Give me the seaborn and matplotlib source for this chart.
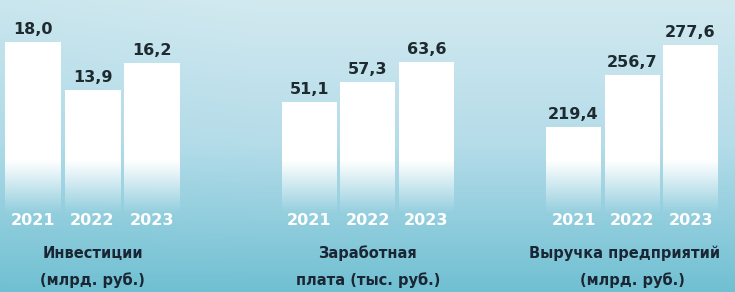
import numpy as np
import pandas as pd
import seaborn as sns
import matplotlib.pyplot as plt
from matplotlib.transforms import blended_transform_factory

# data
years = ['2021', '2022', '2023']
invest = [18.0, 13.9, 16.2]
salary = [51.1, 57.3, 63.6]
revenue = [219.4, 256.7, 277.6]
groups = [
    (invest, ['Инвестиции', '(млрд. руб.)']),
    (salary, ['Заработная', 'плата (тыс. руб.)']),
    (revenue, ['Выручка предприятий', '(млрд. руб.)']),
]

# layout (figure fractions) and truncated y ranges, tuned to the picture
ax_rects = [[0.0044, 0.195, 0.2429, 0.771],
            [0.381, 0.195, 0.2388, 0.771],
            [0.7405, 0.195, 0.2388, 0.771]]
ylims = [(1.5, 20.8), (9.7, 80.0), (142.7, 303.3)]
title_x = [0.5, 0.5, 0.46]

sns.set_theme(style='white')
plt.rcParams['font.family'] = ['DejaVu Sans']

fig = plt.figure(figsize=(7.35, 2.92), dpi=100)

# light blue background gradient
ny, nx = 120, 200
yy = np.linspace(0, 1, ny)[:, None]          # 0 top -> 1 bottom
xx = np.linspace(0, 1, nx)[None, :]
top = np.array([210, 233, 240]) / 255
mid = np.array([180, 220, 233]) / 255
bot = np.array([112, 192, 210]) / 255
t = yy[..., None]
bg = np.where(t < 0.5, top + (mid - top) * (t / 0.5), mid + (bot - mid) * ((t - 0.5) / 0.5))
# slightly more teal toward the left edge
edge = (1 - np.clip(xx / 0.35, 0, 1))[..., None] * 0.08
bg = bg * (1 - edge) + np.array([110, 195, 210]) / 255 * edge
bg = np.broadcast_to(bg, (ny, nx, 3))
bg_ax = fig.add_axes([0, 0, 1, 1])
bg_ax.imshow(bg, aspect='auto', extent=[0, 1, 0, 1])
bg_ax.set_axis_off()

for (values, title), rect, ylim, tx in zip(groups, ax_rects, ylims, title_x):
    ax = fig.add_axes(rect)
    ax.patch.set_alpha(0)
    df = pd.DataFrame({'year': years, 'value': values})
    sns.barplot(data=df, x='year', y='value', color='white', width=0.94,
                saturation=1, ax=ax)
    ax.set_ylim(*ylim)
    xlim = ax.get_xlim()
    lo, hi = ylim

    # white bars fading out toward the bottom
    for p in ax.patches:
        x0, y0, w, h = p.get_x(), p.get_y(), p.get_width(), p.get_height()
        ybot = max(y0, lo)
        ytop = y0 + h
        rows = np.linspace(ytop, ybot, 200)
        frac = (rows - lo) / (hi - lo)
        alpha = np.clip((frac - 0.09) / 0.24, 0, 1) ** 1.2
        img = np.ones((200, 1, 4))
        img[:, 0, 3] = alpha
        ax.imshow(img, aspect='auto', extent=[x0, x0 + w, ybot, ytop],
                  interpolation='bilinear', zorder=2)
        p.set_alpha(0)

    ax.bar_label(ax.containers[0],
                 labels=[f'{v:.1f}'.replace('.', ',') for v in values],
                 padding=4, fontsize=11.5, fontweight='bold', color='#1d2a30')

    tr = blended_transform_factory(ax.transData, ax.transAxes)
    for i, yr in enumerate(years):
        ax.text(i, 0.063, yr, transform=tr, ha='center', va='center',
                fontsize=11.5, fontweight='bold', color='white', zorder=3)

    ax.text(tx, -0.08, title[0], transform=ax.transAxes, ha='center',
            va='center', fontsize=10.5, fontweight='bold', color='#1a2633',
            clip_on=False)
    ax.text(0.5, -0.2, title[1], transform=ax.transAxes, ha='center',
            va='center', fontsize=10.5, fontweight='bold', color='#1a2633',
            clip_on=False)

    ax.set_xlim(xlim)
    ax.set_axis_off()

fig.savefig('out.png', dpi=100)
